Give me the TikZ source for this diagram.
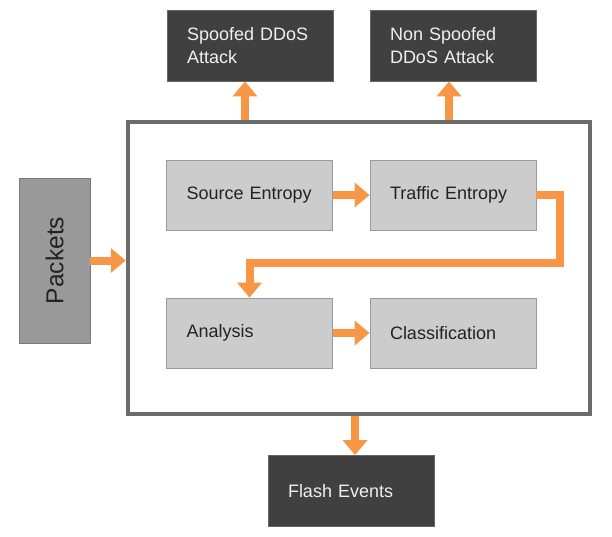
\documentclass[tikz,border=0pt]{standalone}
\usepackage{fontspec}
\setmainfont{Liberation Sans}
\usepackage{graphicx}
\usetikzlibrary{arrows.meta, calc}

\definecolor{resultfill}{HTML}{404040}
\definecolor{stagefill}{HTML}{CCCCCC}
\definecolor{stageline}{HTML}{9A9A9A}
\definecolor{packetfill}{HTML}{999999}
\definecolor{packetline}{HTML}{7A7A7A}
\definecolor{frameline}{HTML}{6B6B6B}
\definecolor{floworange}{HTML}{F79646}
\definecolor{labeldark}{HTML}{222222}

\begin{document}
\begin{tikzpicture}[x=1pt, y=-1pt,
        result/.style={
            fill=resultfill, draw=resultfill!80!white, line width=0.8pt,
            text=white!94!black, font=\fontsize{18}{23.5}\selectfont,
            text width=126pt, inner xsep=20pt, inner ysep=0pt,
            minimum height=71pt, align=left
        },
        stage/.style={
            fill=stagefill, draw=stageline, line width=0.8pt,
            text=labeldark, font=\fontsize{18}{23.5}\selectfont,
            text width=126pt, inner xsep=20pt, inner ysep=0pt,
            minimum height=70pt, align=left
        },
        flow/.style={
            draw=floworange, line width=8pt,
            -{Triangle[width=24pt, length=15pt]}
        }
    ]

    \useasboundingbox (0,0) rectangle (612,536);

    % outer frame and input
    \node[draw=frameline, line width=4.5pt, minimum width=462pt, minimum height=292pt] (frame) at (359,268) {};
    \node[fill=packetfill, draw=packetline, line width=0.8pt, minimum width=71pt, minimum height=165pt,
          text=labeldark, font=\fontsize{24.5}{28}\selectfont] (packets) at (54.5,260.5) {\rotatebox{90}{Packets}};

    % stages inside the frame
    \node[stage] (source) at (249.5,195) {Source Entropy};
    \node[stage] (traffic) at (453,195) {Traffic Entropy};
    \node[stage] (analysis) at (249.5,333) {Analysis};
    \node[stage] (classify) at (453,333) {Classification};

    % outcomes
    \node[result] (spoofed) at (250,45.5) {Spoofed DDoS\\Attack};
    \node[result] (nonspoofed) at (453,45.5) {Non Spoofed\\DDoS Attack};
    \node[result] (flash) at (351,491) {Flash Events};

    \coordinate (turn) at (560,263);

    \draw[flow] (packets.east) -- (packets.east -| frame.west);
    \draw[flow] (source) -- (traffic);
    \draw[flow] (traffic.east) -| (turn) -| (analysis.north);
    \draw[flow] (analysis) -- (classify);
    \draw[flow] ([xshift=-5pt]spoofed.south |- frame.north) -- ([xshift=-5pt]spoofed.south);
    \draw[flow] ([xshift=-4pt]nonspoofed.south |- frame.north) -- ([xshift=-4pt]nonspoofed.south);
    \draw[flow] ([xshift=4pt]frame.south -| flash.north) -- ([xshift=4pt]flash.north);
\end{tikzpicture}
\end{document}
